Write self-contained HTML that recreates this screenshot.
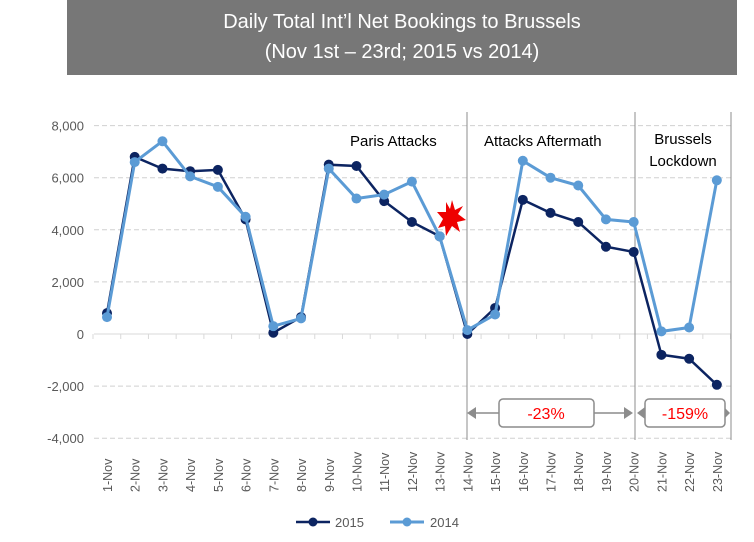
<!DOCTYPE html>
<html><head><meta charset="utf-8"><style>
body{margin:0;background:#fff;width:754px;height:542px;overflow:hidden;font-family:"Liberation Sans",sans-serif}
#t{position:absolute;left:67px;top:0;width:670px;height:75px;background:#777;color:#fff;font-size:20px;text-align:center;line-height:30px;padding-top:7px;box-sizing:border-box}
svg{position:absolute;left:0;top:0}
</style></head><body>
<div id="t">Daily Total Int’l Net Bookings to Brussels<br>(Nov 1st – 23rd; 2015 vs 2014)</div>
<svg id="s" width="754" height="542" font-family="Liberation Sans, sans-serif"></svg>
<script>
var s=document.getElementById('s'),h='';
function X(i){return 107+i*27.72}
function Y(v){return 334-v*0.02605}
for(var v=-4000;v<=8000;v+=2000){var y=Y(v);
 if(v!==0)h+='<line x1="94" x2="731" y1="'+y+'" y2="'+y+'" stroke="#d0d0d0" stroke-dasharray="5,3"/>';
 h+='<text x="84" y="'+(y+5)+'" text-anchor="end" font-size="13" fill="#595959">'+v.toLocaleString('en-US')+'</text>';}
h+='<line x1="94" x2="731" y1="334" y2="334" stroke="#d9d9d9"/>';
for(var i=0;i<=23;i++){var x=93+i*27.72;h+='<line x1="'+x+'" x2="'+x+'" y1="334" y2="339" stroke="#d9d9d9"/>';}
[467,635,731].forEach(function(x){h+='<line x1="'+x+'" x2="'+x+'" y1="112" y2="440" stroke="#8c8c8c"/>';});
for(var i=0;i<23;i++){var x=X(i)+5;h+='<text transform="translate('+x+',492) rotate(-90)" font-size="12.5" fill="#595959">'+(i+1)+'-Nov</text>';}
var a=[800,6800,6350,6250,6300,4400,50,650,6500,6450,5100,4300,3750,0,1000,5150,4650,4300,3350,3150,-800,-950,-1950];
var b=[650,6600,7400,6050,5650,4500,300,600,6350,5200,5350,5850,3750,150,750,6650,6000,5700,4400,4300,100,250,5900];
function ser(d,c,w){var p=d.map(function(v,i){return X(i).toFixed(1)+','+Y(v).toFixed(1)}).join(' ');
 var r='<polyline points="'+p+'" fill="none" stroke="'+c+'" stroke-width="'+w+'"/>';
 d.forEach(function(v,i){r+='<circle cx="'+X(i)+'" cy="'+Y(v)+'" r="5" fill="'+c+'"/>'});return r;}
h+=ser(a,'#0c2461',2.5)+ser(b,'#5b9bd5',3);
h+='<text x="350" y="146" font-size="15" fill="#000">Paris Attacks</text>';
h+='<text x="484" y="146" font-size="15" fill="#000">Attacks Aftermath</text>';
h+='<text x="683" y="144" font-size="15" text-anchor="middle">Brussels</text><text x="683" y="166" font-size="15" text-anchor="middle">Lockdown</text>';
h+='<polygon points="452,200 455,210 463,206 458,214 466,220 457,222 460,232 452,226 446,236 445,226 438,228 443,219 437,212 446,212 446,202 450,209" fill="#e00"/>';
h+='<line x1="475" x2="627" y1="413" y2="413" stroke="#8c8c8c" stroke-width="1.5"/><polygon points="467,413 476,407 476,419" fill="#8c8c8c"/><polygon points="633,413 624,407 624,419" fill="#8c8c8c"/>';
h+='<rect x="499" y="399" width="95" height="28" rx="4" fill="#fff" stroke="#8c8c8c" stroke-width="1.5"/><text x="546" y="419" text-anchor="middle" font-size="16" fill="#f00">-23%</text>';
h+='<polygon points="637,413 645,407 645,419" fill="#8c8c8c"/><polygon points="730,413 725,408 725,418" fill="#8c8c8c"/>';
h+='<rect x="645" y="399" width="80" height="28" rx="4" fill="#fff" stroke="#8c8c8c" stroke-width="1.5"/><text x="685" y="419" text-anchor="middle" font-size="16" fill="#f00">-159%</text>';
h+='<line x1="296" x2="330" y1="522" y2="522" stroke="#0c2461" stroke-width="2.5"/><circle cx="313" cy="522" r="4.5" fill="#0c2461"/><text x="335" y="527" font-size="13" fill="#595959">2015</text>';
h+='<line x1="390" x2="424" y1="522" y2="522" stroke="#5b9bd5" stroke-width="3"/><circle cx="407" cy="522" r="4.5" fill="#5b9bd5"/><text x="430" y="527" font-size="13" fill="#595959">2014</text>';
s.innerHTML=h;
</script>
</body></html>
